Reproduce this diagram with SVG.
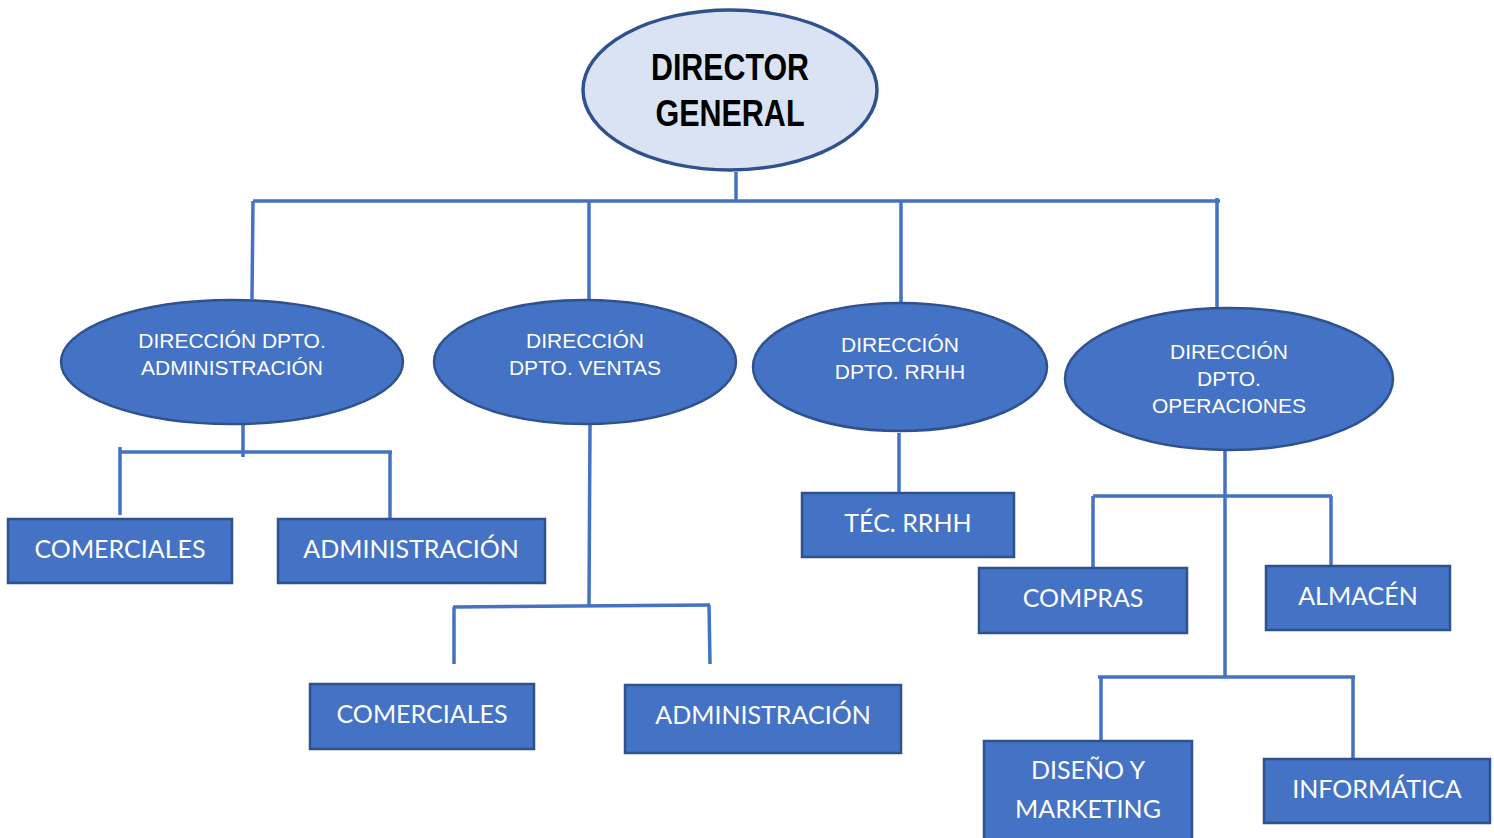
<svg xmlns="http://www.w3.org/2000/svg" width="1494" height="838" viewBox="0 0 1494 838">
<style>
.bg{fill:#ffffff}
.ell{fill:#4472C4;stroke:#2F528F;stroke-width:2.5}
.top{fill:#DAE3F3;stroke:#2F528F;stroke-width:3.5}
.box{fill:#4472C4;stroke:#2F528F;stroke-width:2.5}
.ln{fill:none;stroke:#4472C4;stroke-width:3.5;stroke-linecap:butt}
.et{font-family:"Liberation Sans",Arial,sans-serif;font-size:21px;fill:#ffffff;text-anchor:middle}
.bt{font-family:Lato,"Open Sans",sans-serif;font-size:25px;fill:#ffffff;text-anchor:middle}
.tt{font-family:"Liberation Sans",Arial,sans-serif;font-weight:bold;font-size:36px;fill:#000000;text-anchor:middle}
</style>
<rect class="bg" x="0" y="0" width="1494" height="838"/>
<g id="connectors">
<path class="ln" d="M736 172 V201"/>
<path class="ln" d="M253 201 H1220"/>
<path class="ln" d="M253 201 L252 299"/>
<path class="ln" d="M589 201 V300"/>
<path class="ln" d="M901 201 V303"/>
<path class="ln" d="M1217 198 V308"/>
<path class="ln" d="M243 425 V457"/>
<path class="ln" d="M119 452 H392"/>
<path class="ln" d="M120 447 V515"/>
<path class="ln" d="M390 452 V519"/>
<path class="ln" d="M590 425 L589 605"/>
<path class="ln" d="M453 607 L710 605"/>
<path class="ln" d="M454 607 V664"/>
<path class="ln" d="M709 605 L710 664"/>
<path class="ln" d="M899 433 V493"/>
<path class="ln" d="M1225 451 V677"/>
<path class="ln" d="M1093 496 H1332"/>
<path class="ln" d="M1093 496 V568"/>
<path class="ln" d="M1331 496 V566"/>
<path class="ln" d="M1098 677 H1355"/>
<path class="ln" d="M1101 677 V741"/>
<path class="ln" d="M1353 677 V759"/>
</g>
<g id="director">
<ellipse class="top" cx="730" cy="90" rx="147" ry="80"/>
<text class="tt" x="730" y="80" textLength="158" lengthAdjust="spacingAndGlyphs">DIRECTOR</text>
<text class="tt" x="730" y="126" textLength="149" lengthAdjust="spacingAndGlyphs">GENERAL</text>
</g>
<g id="dir-admin">
<ellipse class="ell" cx="232" cy="362" rx="171" ry="62"/>
<text class="et" x="232" y="348">DIRECCIÓN DPTO.</text>
<text class="et" x="232" y="375">ADMINISTRACIÓN</text>
</g>
<g id="dir-ventas">
<ellipse class="ell" cx="585" cy="362" rx="151" ry="62"/>
<text class="et" x="585" y="348">DIRECCIÓN</text>
<text class="et" x="585" y="375">DPTO. VENTAS</text>
</g>
<g id="dir-rrhh">
<ellipse class="ell" cx="900" cy="367" rx="147" ry="64"/>
<text class="et" x="900" y="352">DIRECCIÓN</text>
<text class="et" x="900" y="379">DPTO. RRHH</text>
</g>
<g id="dir-operaciones">
<ellipse class="ell" cx="1229" cy="379" rx="164" ry="71"/>
<text class="et" x="1229" y="359">DIRECCIÓN</text>
<text class="et" x="1229" y="386">DPTO.</text>
<text class="et" x="1229" y="413">OPERACIONES</text>
</g>
<g id="admin-comerciales">
<rect class="box" x="8" y="519" width="224" height="64"/>
<text class="bt" x="120" y="558">COMERCIALES</text>
</g>
<g id="admin-administracion">
<rect class="box" x="278" y="519" width="267" height="64"/>
<text class="bt" x="411" y="558">ADMINISTRACIÓN</text>
</g>
<g id="ventas-comerciales">
<rect class="box" x="310" y="684" width="224" height="65"/>
<text class="bt" x="422" y="723">COMERCIALES</text>
</g>
<g id="ventas-administracion">
<rect class="box" x="625" y="685" width="276" height="68"/>
<text class="bt" x="763" y="724">ADMINISTRACIÓN</text>
</g>
<g id="tec-rrhh">
<rect class="box" x="802" y="493" width="212" height="64"/>
<text class="bt" x="908" y="532">TÉC. RRHH</text>
</g>
<g id="compras">
<rect class="box" x="979" y="568" width="208" height="65"/>
<text class="bt" x="1083" y="607">COMPRAS</text>
</g>
<g id="almacen">
<rect class="box" x="1266" y="566" width="184" height="64"/>
<text class="bt" x="1358" y="605">ALMACÉN</text>
</g>
<g id="diseno-marketing">
<rect class="box" x="984" y="741" width="208" height="100"/>
<text class="bt" x="1088" y="779">DISEÑO Y</text>
<text class="bt" x="1088" y="818">MARKETING</text>
</g>
<g id="informatica">
<rect class="box" x="1264" y="759" width="226" height="64"/>
<text class="bt" x="1377" y="798">INFORMÁTICA</text>
</g>
</svg>
